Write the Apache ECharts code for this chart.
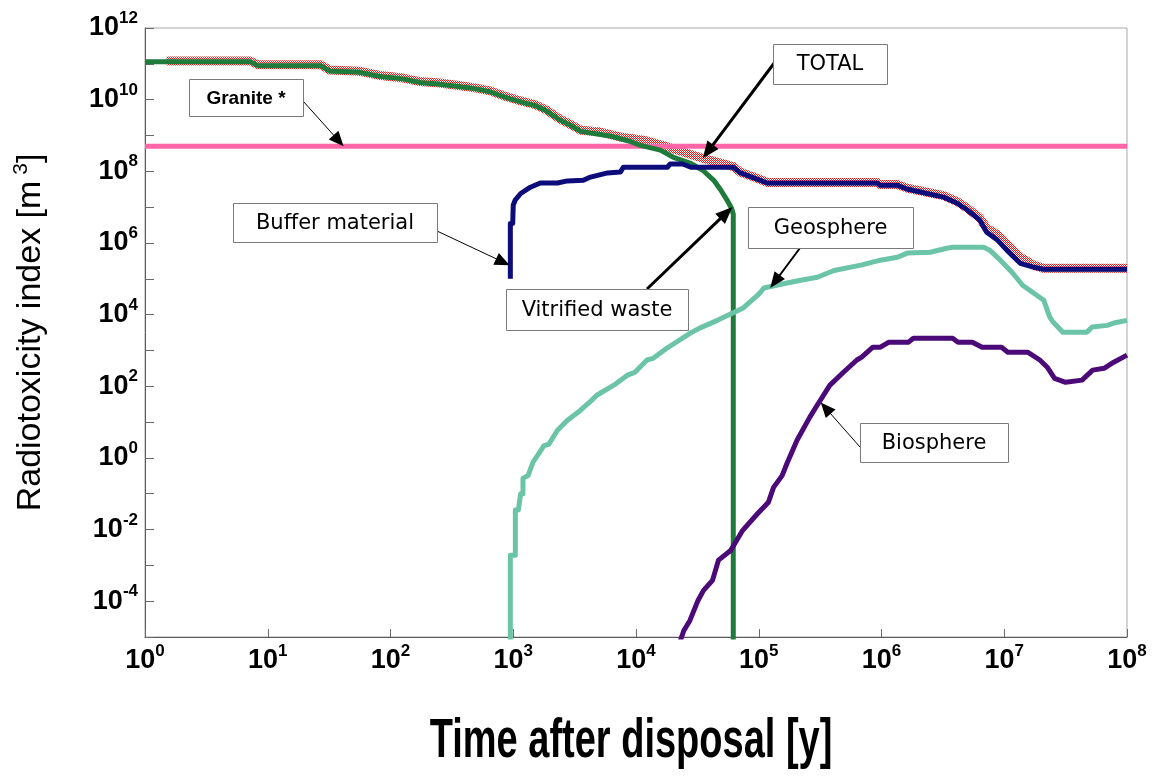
<!DOCTYPE html>
<html>
<head>
<meta charset="utf-8">
<script src="https://cdn.jsdelivr.net/npm/echarts@6/dist/echarts.min.js"></script>
<style>
  html, body { margin: 0; padding: 0; background: #fff; }
  #chart { width: 1152px; height: 778px; }
</style>
</head>
<body>
<div id="chart"></div>
<script>
// Time after disposal [y] vs radiotoxicity index [m^3], log-log.
const xTickExponents = [0, 1, 2, 3, 4, 5, 6, 7, 8];
const yLabelExponents = [12, 10, 8, 6, 4, 2, 0, -2, -4];

// Natural granite reference level
const granite = [[1, 5e8], [1e8, 5e8]];

// Sum of all barriers
const total = [
  [1.5, 1.2e11], [7.2, 1.2e11], [8.3, 9.4e10], [27, 9.4e10], [32, 6.7e10], [56, 6.2e10],
  [83, 4.7e10], [126, 4.0e10], [174, 3.2e10], [251, 2.9e10], [372, 2.45e10], [500, 2.1e10],
  [645, 1.76e10], [890, 1.19e10], [1150, 9.2e9], [1510, 7.2e9], [1820, 5.4e9], [2400, 2.9e9],
  [2950, 2.0e9], [3550, 1.4e9], [5100, 1.25e9], [7400, 9.1e8], [1.15e4, 7.4e8], [1.8e4, 4.8e8],
  [2.6e4, 3.2e8], [3.5e4, 2.3e8], [4.9e4, 1.7e8], [6.2e4, 1.35e8], [7.1e4, 9.4e7], [1.03e5, 5.9e7],
  [1.17e5, 4.9e7], [9.2e5, 4.9e7], [9.7e5, 4.3e7], [1.34e6, 4.3e7], [1.61e6, 3.4e7], [2.35e6, 2.6e7],
  [3.2e6, 2.1e7], [4.1e6, 1.45e7], [5.0e6, 9.3e6], [6.3e6, 5.0e6], [7.2e6, 2.6e6], [8.8e6, 1.7e6],
  [1.05e7, 9.5e5], [1.35e7, 4.0e5], [1.73e7, 2.4e5], [2.1e7, 1.95e5], [1e8, 1.95e5]
];

// Vitrified waste
const vitrifiedWaste = [
  [1, 1.15e11], [7.2, 1.15e11], [8.3, 8.9e10], [27, 8.9e10], [32, 6.3e10], [56, 5.8e10],
  [83, 4.4e10], [126, 3.8e10], [174, 3.0e10], [251, 2.7e10], [372, 2.3e10], [500, 2.0e10],
  [645, 1.66e10], [890, 1.12e10], [1150, 8.7e9], [1510, 6.8e9], [1820, 5.1e9], [2400, 2.7e9],
  [2950, 1.9e9], [3550, 1.3e9], [4700, 1.12e9], [6300, 9.5e8], [8900, 6.9e8], [1.07e4, 5.4e8],
  [1.58e4, 3.9e8], [2.0e4, 2.5e8], [2.75e4, 1.7e8], [3.5e4, 1.07e8], [4.3e4, 5.6e7], [4.9e4, 3.0e7],
  [5.5e4, 1.6e7], [6.0e4, 9.3e6], [6.2e4, 6.3e6], [6.2e4, 1e-7]
];

// Buffer material
const bufferMaterial = [
  [947, 1.0e5], [947, 3.5e6], [990, 3.5e6], [1000, 1.15e7], [1040, 1.6e7], [1150, 2.4e7],
  [1380, 3.6e7], [1660, 4.7e7], [2290, 4.7e7], [2760, 5.4e7], [3720, 5.6e7], [4260, 6.9e7],
  [5870, 9.0e7], [7450, 9.5e7], [7900, 1.3e8], [1.8e4, 1.3e8], [1.9e4, 1.6e8], [2.4e4, 1.6e8],
  [2.8e4, 1.3e8], [6.2e4, 1.3e8], [7.1e4, 9.0e7], [1.03e5, 5.6e7], [1.17e5, 4.7e7], [9.2e5, 4.7e7],
  [9.7e5, 4.1e7], [1.34e6, 4.1e7], [1.61e6, 3.2e7], [2.35e6, 2.4e7], [3.2e6, 1.9e7], [4.1e6, 1.3e7],
  [5.0e6, 8.3e6], [6.3e6, 4.4e6], [7.2e6, 2.0e6], [8.8e6, 1.2e6], [1.05e7, 6.3e5], [1.35e7, 2.7e5],
  [1.73e7, 2.1e5], [2.1e7, 1.85e5], [1e8, 1.85e5]
];

// Geosphere
const geosphere = [
  [947, 1e-7], [947, 1.9e-3], [1040, 1.9e-3], [1040, 0.035], [1100, 0.035], [1150, 0.10],
  [1200, 0.10], [1200, 0.27], [1320, 0.32], [1450, 0.76], [1780, 2.2], [1950, 2.4],
  [2290, 5.9], [2750, 11], [3390, 19], [4370, 41], [4790, 56], [6600, 107], [8500, 204],
  [9800, 245], [1.23e4, 540], [1.38e4, 600], [1.78e4, 1150], [2.75e4, 3000], [3.3e4, 4200],
  [4.6e4, 6900], [7.4e4, 1.5e4], [9.8e4, 3.5e4], [1.02e5, 4.0e4], [1.1e5, 5.5e4], [1.7e5, 7.6e4],
  [2.2e5, 9.1e4], [3.0e5, 1.1e5], [4.1e5, 1.7e5], [6.8e5, 2.4e5], [9.8e5, 3.3e5], [1.35e6, 4.0e5],
  [1.62e6, 5.2e5], [2.5e6, 5.5e5], [3.4e6, 7.1e5], [3.8e6, 7.6e5], [6.8e6, 7.6e5], [7.6e6, 6.3e5],
  [9.3e6, 3.3e5], [1.17e7, 1.45e5], [1.41e7, 6.6e4], [2.1e7, 2.5e4], [2.35e7, 8.5e3], [2.5e7, 6.2e3],
  [3.0e7, 3.2e3], [4.7e7, 3.2e3], [5.2e7, 4.5e3], [6.9e7, 5.0e3], [7.8e7, 5.8e3], [1e8, 6.9e3]
];

// Biosphere
const biosphere = [
  [2.3e4, 8e-6], [2.45e4, 1.5e-5], [2.75e4, 2.9e-5], [3.2e4, 1.05e-4], [3.55e4, 2.0e-4], [4.2e4, 3.8e-4],
  [4.7e4, 1.4e-3], [5.9e4, 2.6e-3], [7.4e4, 9.5e-3], [9.8e4, 0.028], [1.2e5, 0.058], [1.32e5, 0.15],
  [1.55e5, 0.32], [1.7e5, 0.71], [2.05e5, 3.1], [2.6e5, 13.5], [3.0e5, 30], [3.8e5, 107],
  [4.9e5, 245], [6.3e5, 540], [6.9e5, 650], [8.5e5, 1230], [9.8e5, 1230], [1.15e6, 1700],
  [1.66e6, 1700], [1.82e6, 2190], [3.8e6, 2190], [4.2e6, 1700], [5.5e6, 1700], [6.6e6, 1230],
  [9.5e6, 1230], [1.07e7, 890], [1.55e7, 890], [1.95e7, 540], [2.24e7, 340], [2.57e7, 166],
  [3.16e7, 129], [4.3e7, 148], [5.25e7, 282], [6.5e7, 316], [7.8e7, 468], [1e8, 740]
];

const SANS = '"Liberation Sans", Arial, sans-serif';
const WIDE = '"DejaVu Sans", sans-serif';

// Callout boxes: text, box rectangle in pixels, arrow start in pixels, arrow tip in data units
const callouts = [
  { text: 'Granite *', family: SANS, size: 19, weight: 'bold', box: [189, 79, 114, 37], from: [303, 101], to: [41.5, 5e8], lw: 1, head: [15, 13] },
  { text: 'TOTAL', family: WIDE, size: 21, weight: 'normal', box: [773, 44, 114, 40], from: [775, 62], to: [3.5e4, 2.3e8], lw: 3, head: [17, 14] },
  { text: 'Buffer material', family: WIDE, size: 21, weight: 'normal', box: [233, 203, 204, 39], from: [437, 231], to: [935, 2.4e5], lw: 1, head: [15, 13] },
  { text: 'Vitrified waste', family: WIDE, size: 21, weight: 'normal', box: [506, 289, 182, 41], from: [647, 289], to: [6.1e4, 1.0e7], lw: 3, head: [17, 14] },
  { text: 'Geosphere', family: WIDE, size: 21, weight: 'normal', box: [748, 207, 165, 41], from: [800, 248], to: [1.24e5, 5.5e4], lw: 2, head: [16, 13] },
  { text: 'Biosphere', family: WIDE, size: 21, weight: 'normal', box: [860, 423, 148, 39], from: [860, 447], to: [3.2e5, 35], lw: 1, head: [15, 13] }
];

function checkerPattern() {
  const c = document.createElement('canvas');
  c.width = 2; c.height = 2;
  const g = c.getContext('2d');
  g.fillStyle = '#ffffff'; g.fillRect(0, 0, 2, 2);
  g.fillStyle = '#ff1010'; g.fillRect(0, 0, 1, 1); g.fillRect(1, 1, 1, 1);
  return { image: c, repeat: 'repeat' };
}

const expOf = v => Math.round(Math.log10(v));

const powerRich = {
  b: { fontSize: 27, fontWeight: 'bold', fontFamily: SANS, color: '#000', lineHeight: 36 },
  s: { fontSize: 17, fontWeight: 'bold', fontFamily: SANS, color: '#000', lineHeight: 16, verticalAlign: 'top' }
};

function lineSeries(name, data, color, width, z) {
  return {
    name, type: 'line', data, showSymbol: false, symbol: 'none', clip: true, z,
    lineStyle: { color, width, cap: 'butt', join: 'round' },
    emphasis: { disabled: true }
  };
}

const chart = echarts.init(document.getElementById('chart'), null, { renderer: 'canvas' });

chart.setOption({
  animation: false,
  backgroundColor: '#fff',
  grid: { left: 145, right: 25, top: 28, bottom: 141, show: true, borderColor: '#a8a8a8', borderWidth: 1, backgroundColor: 'transparent' },
  xAxis: {
    type: 'log', logBase: 10, min: 1, max: 1e8, interval: 1,
    axisLine: { show: true, onZero: false, lineStyle: { color: '#5a5a5a', width: 1 } },
    axisTick: { show: true, inside: true, length: 8, lineStyle: { color: '#6a6a6a' } },
    splitLine: { show: false },
    axisLabel: {
      margin: 6,
      formatter: v => xTickExponents.includes(expOf(v)) ? '{b|10}{s|' + expOf(v) + '}' : '',
      rich: powerRich
    }
  },
  yAxis: {
    type: 'log', logBase: 10, min: 1e-5, max: 1e12, interval: 1,
    axisLine: { show: true, onZero: false, lineStyle: { color: '#5a5a5a', width: 1 } },
    axisTick: { show: true, inside: true, length: 9, lineStyle: { color: '#6a6a6a' } },
    splitLine: { show: false },
    axisLabel: {
      margin: 7,
      formatter: v => yLabelExponents.includes(expOf(v)) ? '{b|10}{s|' + expOf(v) + '}' : '',
      rich: powerRich
    },
    name: '{t|Radiotoxicity index [m}{s| 3}{t|]}',
    nameLocation: 'middle',
    nameGap: 94,
    nameTextStyle: {
      rich: {
        t: { fontSize: 34, fontFamily: SANS, color: '#000', lineHeight: 40 },
        s: { fontSize: 21, fontFamily: SANS, color: '#000', lineHeight: 22, verticalAlign: 'top' }
      }
    }
  },
  series: [
    lineSeries('TOTAL', total, checkerPattern(), 9, 2),
    lineSeries('Granite', granite, '#ff66a8', 5, 3),
    lineSeries('Vitrified waste', vitrifiedWaste, '#1e7b3c', 5, 4),
    lineSeries('Buffer material', bufferMaterial, '#0c0c7a', 5, 5),
    lineSeries('Geosphere', geosphere, '#6cc4a8', 5, 4),
    lineSeries('Biosphere', biosphere, '#4b0a78', 5, 4)
  ]
});

// Callout boxes and arrows, anchored to data coordinates
function arrowParts(p0, p1, lw, head) {
  const dx = p1[0] - p0[0], dy = p1[1] - p0[1];
  const L = Math.hypot(dx, dy);
  const ux = dx / L, uy = dy / L, nx = -uy, ny = ux;
  const bx = p1[0] - ux * head[0], by = p1[1] - uy * head[0];
  return [
    { type: 'line', silent: true, z: 100, shape: { x1: p0[0], y1: p0[1], x2: bx + ux, y2: by + uy }, style: { stroke: '#000', lineWidth: lw } },
    { type: 'polygon', silent: true, z: 100, shape: { points: [[p1[0], p1[1]], [bx + nx * head[1] / 2, by + ny * head[1] / 2], [bx - nx * head[1] / 2, by - ny * head[1] / 2]] }, style: { fill: '#000' } }
  ];
}

const elements = [];
callouts.forEach(c => {
  const tip = chart.convertToPixel({ gridIndex: 0 }, c.to);
  elements.push(...arrowParts(c.from, tip, c.lw, c.head));
  const [bx, by, bw, bh] = c.box;
  elements.push({ type: 'rect', silent: true, z: 101, shape: { x: bx + 0.5, y: by + 0.5, width: bw, height: bh }, style: { fill: '#fff', stroke: '#7a7a7a', lineWidth: 1 } });
  elements.push({ type: 'text', silent: true, z: 102, x: bx + bw / 2, y: by + bh / 2 + 1,
    style: { text: c.text, fontFamily: c.family, fontSize: c.size, fontWeight: c.weight, fill: '#000',
      align: 'center', verticalAlign: 'middle', textAlign: 'center', textVerticalAlign: 'middle' } });
});

// Horizontal axis title, drawn tall and narrow
elements.push({
  type: 'text', silent: true, z: 102, x: 631, y: 742, scaleX: 1, scaleY: 1.45, originX: 0, originY: 0,
  style: { text: 'Time after disposal [y]', fontFamily: SANS, fontSize: 38, fontWeight: 'bold', fill: '#000',
    align: 'center', verticalAlign: 'middle', textAlign: 'center', textVerticalAlign: 'middle' }
});

chart.setOption({ graphic: { elements } });
</script>
</body>
</html>
